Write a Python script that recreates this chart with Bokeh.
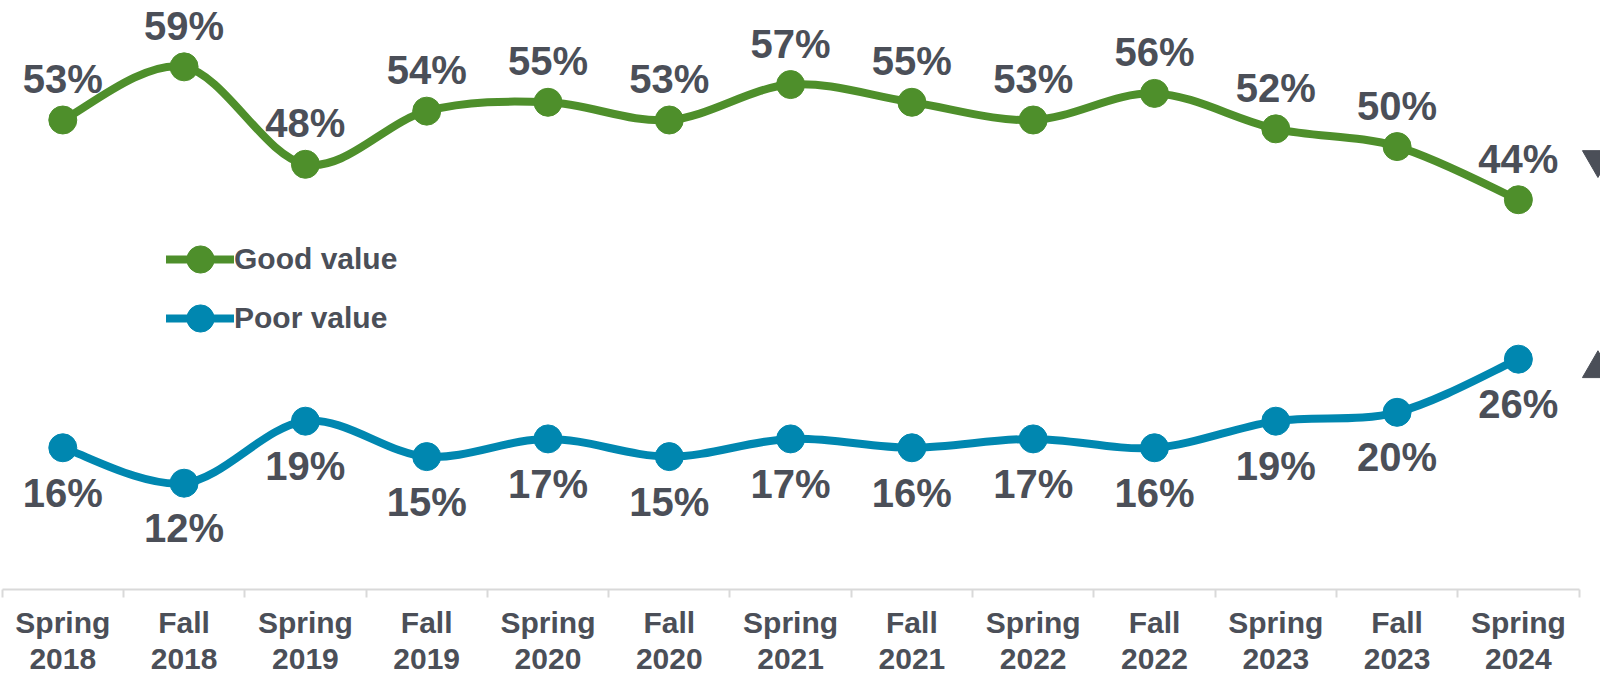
from bokeh.plotting import figure
from bokeh.models import (Range1d, LinearAxis, FixedTicker, Legend, LegendItem,
                          ColumnDataSource)
from bokeh.core.properties import value
from bokeh.embed import file_html
from bokeh.resources import INLINE

seasons = ["Spring", "Fall", "Spring", "Fall", "Spring", "Fall", "Spring",
           "Fall", "Spring", "Fall", "Spring", "Fall", "Spring"]
years = ["2018", "2018", "2019", "2019", "2020", "2020", "2021",
         "2021", "2022", "2022", "2023", "2023", "2024"]
good = [53, 59, 48, 54, 55, 53, 57, 55, 53, 56, 52, 50, 44]
poor = [16, 12, 19, 15, 17, 15, 17, 16, 17, 16, 19, 20, 26]

GREEN = "#4E8F2B"
BLUE = "#0087B0"
TXT = "#4B4F58"
FONT = "Liberation Sans"

xs = list(range(len(seasons)))

p = figure(frame_width=1600, frame_height=589, output_backend="svg",
           toolbar_location=None,
           x_range=Range1d(-0.5136, 12.677), y_range=Range1d(0, 66.49),
           x_axis_type=None, y_axis_type=None,
           min_border_left=0, min_border_right=0, min_border_top=0,
           min_border_bottom=88)
p.grid.visible = False
p.outline_line_color = None
p.background_fill_color = "white"
p.border_fill_color = "white"


def bezier_source(x, y):
    n = len(x)
    d = dict(x0=[], y0=[], x1=[], y1=[], cx0=[], cy0=[], cx1=[], cy1=[])
    for i in range(n - 1):
        xm, ym = (x[i - 1], y[i - 1]) if i > 0 else (x[i], y[i])
        xp, yp = (x[i + 2], y[i + 2]) if i + 2 < n else (x[i + 1], y[i + 1])
        d["x0"].append(x[i]); d["y0"].append(y[i])
        d["x1"].append(x[i + 1]); d["y1"].append(y[i + 1])
        d["cx0"].append(x[i] + (x[i + 1] - xm) / 6)
        d["cy0"].append(y[i] + (y[i + 1] - ym) / 6)
        d["cx1"].append(x[i + 1] - (xp - x[i]) / 6)
        d["cy1"].append(y[i + 1] - (yp - y[i]) / 6)
    return ColumnDataSource(d)


series = [(good, GREEN, "Good value", -41, 296),
          (poor, BLUE, "Poor value", 45, 237)]
for vals, color, name, off, leg_y in series:
    br = p.bezier(x0="x0", y0="y0", x1="x1", y1="y1", cx0="cx0", cy0="cy0",
                  cx1="cx1", cy1="cy1", source=bezier_source(xs, vals),
                  line_color=color, line_width=8, line_cap="round")
    sr = p.scatter(xs, vals, size=28, fill_color=color, line_color=color)
    p.text(xs, vals, text=[f"{v}%" for v in vals], y_offset=off,
           text_align="center", text_baseline="alphabetic",
           text_font=value(FONT), text_font_style="bold",
           text_font_size="40px", text_color=TXT)
    legend = Legend(items=[LegendItem(label=name, renderers=[br, sr])],
                    location=(166, leg_y), padding=0, margin=0, spacing=0,
                    glyph_width=68, glyph_height=68, label_standoff=0,
                    label_text_font=FONT, label_text_font_style="bold",
                    label_text_font_size="30px", label_text_color=TXT,
                    border_line_color=None, background_fill_alpha=0)
    p.add_layout(legend)

# trend indicators beside the last point of each series
p.scatter([xs[-1] + 0.656], [good[-1] + 4.53], marker="inverted_triangle",
          size=31, fill_color=TXT, line_color=TXT)
p.scatter([xs[-1] + 0.656], [poor[-1] - 1.07], marker="triangle",
          size=31, fill_color=TXT, line_color=TXT)

ax = LinearAxis(ticker=FixedTicker(ticks=xs,
                                   minor_ticks=[i - 0.5 for i in range(len(xs) + 1)]))
ax.major_label_overrides = {i: f"{s}\n{y}" for i, (s, y) in enumerate(zip(seasons, years))}
ax.bounds = (-0.5, 12.5)
ax.axis_line_color = "#D9D9D9"
ax.axis_line_width = 2
ax.major_tick_line_color = None
ax.minor_tick_line_color = "#D9D9D9"
ax.minor_tick_line_width = 2
ax.minor_tick_in = 0
ax.minor_tick_out = 8
ax.major_label_standoff = 8
ax.major_label_text_font = FONT
ax.major_label_text_font_style = "bold"
ax.major_label_text_font_size = "30px"
ax.major_label_text_line_height = 1.11
ax.major_label_text_color = TXT
p.add_layout(ax, "below")

open("out.html", "w").write(file_html(p, INLINE))
